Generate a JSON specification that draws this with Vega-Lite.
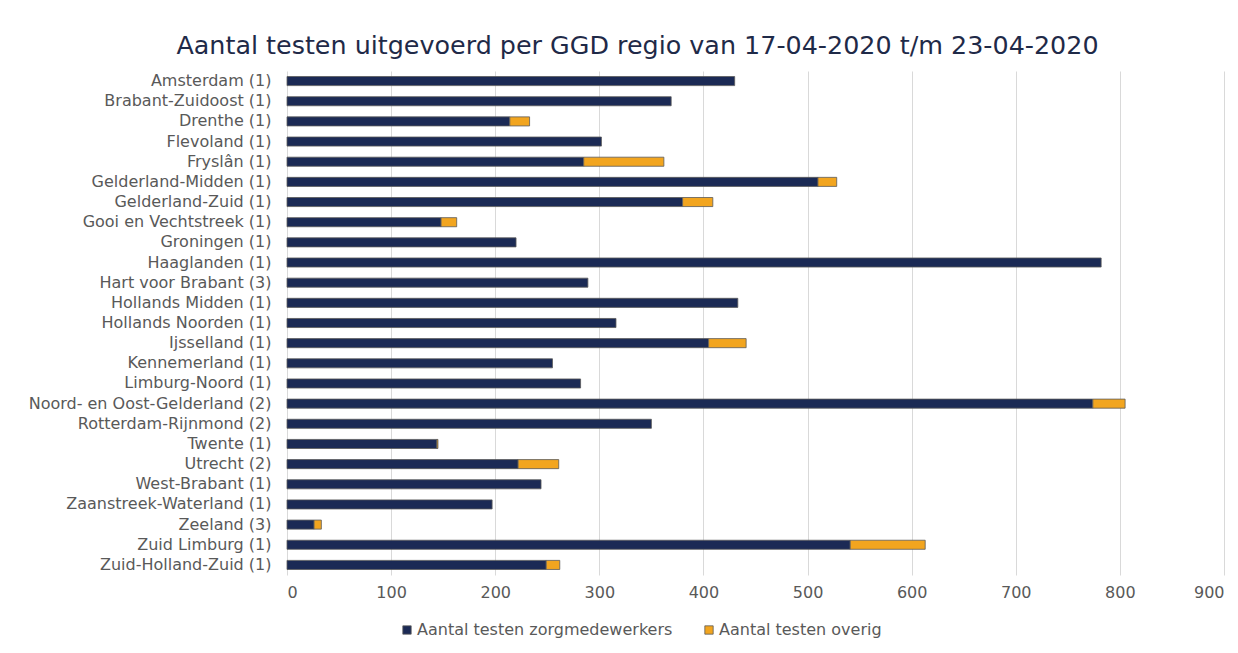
{
  "$schema": "https://vega.github.io/schema/vega-lite/v6.json",
  "width": 937,
  "height": 504,
  "autosize": {"type": "none"},
  "padding": {"left": 287, "top": 71, "right": 14, "bottom": 78},
  "background": "#ffffff",
  "title": {
    "text": "Aantal testen uitgevoerd per GGD regio van 17-04-2020 t/m 23-04-2020",
    "font": "DejaVu Sans",
    "fontSize": 25.4,
    "fontWeight": "normal",
    "color": "#1f2a48",
    "anchor": "middle",
    "dx": -118,
    "offset": 12
  },
  "data": {
    "values": [
      {"regio": "Amsterdam (1)", "reeks": "Aantal testen zorgmedewerkers", "aantal": 430},
      {"regio": "Brabant-Zuidoost (1)", "reeks": "Aantal testen zorgmedewerkers", "aantal": 369},
      {"regio": "Drenthe (1)", "reeks": "Aantal testen zorgmedewerkers", "aantal": 214},
      {"regio": "Drenthe (1)", "reeks": "Aantal testen overig", "aantal": 19},
      {"regio": "Flevoland (1)", "reeks": "Aantal testen zorgmedewerkers", "aantal": 302},
      {"regio": "Fryslân (1)", "reeks": "Aantal testen zorgmedewerkers", "aantal": 285},
      {"regio": "Fryslân (1)", "reeks": "Aantal testen overig", "aantal": 77},
      {"regio": "Gelderland-Midden (1)", "reeks": "Aantal testen zorgmedewerkers", "aantal": 510},
      {"regio": "Gelderland-Midden (1)", "reeks": "Aantal testen overig", "aantal": 18},
      {"regio": "Gelderland-Zuid (1)", "reeks": "Aantal testen zorgmedewerkers", "aantal": 380},
      {"regio": "Gelderland-Zuid (1)", "reeks": "Aantal testen overig", "aantal": 29},
      {"regio": "Gooi en Vechtstreek (1)", "reeks": "Aantal testen zorgmedewerkers", "aantal": 148},
      {"regio": "Gooi en Vechtstreek (1)", "reeks": "Aantal testen overig", "aantal": 15},
      {"regio": "Groningen (1)", "reeks": "Aantal testen zorgmedewerkers", "aantal": 220},
      {"regio": "Haaglanden (1)", "reeks": "Aantal testen zorgmedewerkers", "aantal": 782},
      {"regio": "Hart voor Brabant (3)", "reeks": "Aantal testen zorgmedewerkers", "aantal": 289},
      {"regio": "Hollands Midden (1)", "reeks": "Aantal testen zorgmedewerkers", "aantal": 433},
      {"regio": "Hollands Noorden (1)", "reeks": "Aantal testen zorgmedewerkers", "aantal": 316},
      {"regio": "Ijsselland (1)", "reeks": "Aantal testen zorgmedewerkers", "aantal": 405},
      {"regio": "Ijsselland (1)", "reeks": "Aantal testen overig", "aantal": 36},
      {"regio": "Kennemerland (1)", "reeks": "Aantal testen zorgmedewerkers", "aantal": 255},
      {"regio": "Limburg-Noord (1)", "reeks": "Aantal testen zorgmedewerkers", "aantal": 282},
      {"regio": "Noord- en Oost-Gelderland (2)", "reeks": "Aantal testen zorgmedewerkers", "aantal": 774},
      {"regio": "Noord- en Oost-Gelderland (2)", "reeks": "Aantal testen overig", "aantal": 31},
      {"regio": "Rotterdam-Rijnmond (2)", "reeks": "Aantal testen zorgmedewerkers", "aantal": 350},
      {"regio": "Twente (1)", "reeks": "Aantal testen zorgmedewerkers", "aantal": 144},
      {"regio": "Twente (1)", "reeks": "Aantal testen overig", "aantal": 1},
      {"regio": "Utrecht (2)", "reeks": "Aantal testen zorgmedewerkers", "aantal": 222},
      {"regio": "Utrecht (2)", "reeks": "Aantal testen overig", "aantal": 39},
      {"regio": "West-Brabant (1)", "reeks": "Aantal testen zorgmedewerkers", "aantal": 244},
      {"regio": "Zaanstreek-Waterland (1)", "reeks": "Aantal testen zorgmedewerkers", "aantal": 197},
      {"regio": "Zeeland (3)", "reeks": "Aantal testen zorgmedewerkers", "aantal": 26},
      {"regio": "Zeeland (3)", "reeks": "Aantal testen overig", "aantal": 7},
      {"regio": "Zuid Limburg (1)", "reeks": "Aantal testen zorgmedewerkers", "aantal": 541},
      {"regio": "Zuid Limburg (1)", "reeks": "Aantal testen overig", "aantal": 72},
      {"regio": "Zuid-Holland-Zuid (1)", "reeks": "Aantal testen zorgmedewerkers", "aantal": 249},
      {"regio": "Zuid-Holland-Zuid (1)", "reeks": "Aantal testen overig", "aantal": 13}
    ]
  },
  "transform": [
    {"calculate": "datum.reeks === 'Aantal testen zorgmedewerkers' ? 0 : 1", "as": "volgorde"}
  ],
  "mark": {"type": "bar", "stroke": "#5a5a5a", "strokeWidth": 0.8},
  "encoding": {
    "y": {
      "field": "regio",
      "type": "nominal",
      "sort": null,
      "title": null,
      "scale": {"paddingInner": 0.55, "paddingOuter": 0.275},
      "axis": {
        "ticks": false,
        "domain": false,
        "labelFont": "DejaVu Sans",
        "labelFontSize": 16,
        "labelColor": "#595959",
        "labelPadding": 16,
        "labelLimit": 400
      }
    },
    "x": {
      "field": "aantal",
      "type": "quantitative",
      "stack": "zero",
      "title": null,
      "scale": {"domain": [0, 900], "nice": false},
      "axis": {
        "values": [0, 100, 200, 300, 400, 500, 600, 700, 800, 900],
        "ticks": false,
        "domain": false,
        "grid": true,
        "gridColor": "#d9d9d9",
        "gridWidth": 1,
        "labelFont": "DejaVu Sans",
        "labelFontSize": 16,
        "labelColor": "#595959",
        "labelPadding": 9
      }
    },
    "color": {
      "field": "reeks",
      "type": "nominal",
      "title": null,
      "scale": {
        "domain": ["Aantal testen zorgmedewerkers", "Aantal testen overig"],
        "range": ["#1b2a55", "#f2a51f"]
      },
      "legend": {
        "orient": "none",
        "direction": "horizontal",
        "legendX": 112,
        "legendY": 551,
        "symbolType": "square",
        "symbolSize": 70,
        "symbolStrokeColor": "#5a5a5a",
        "symbolStrokeWidth": 0.8,
        "labelFont": "DejaVu Sans",
        "labelFontSize": 16,
        "labelColor": "#595959",
        "labelOffset": 2,
        "columnPadding": 28,
        "labelLimit": 400
      }
    },
    "order": {"field": "volgorde", "type": "quantitative"}
  },
  "config": {"view": {"stroke": null}}
}
